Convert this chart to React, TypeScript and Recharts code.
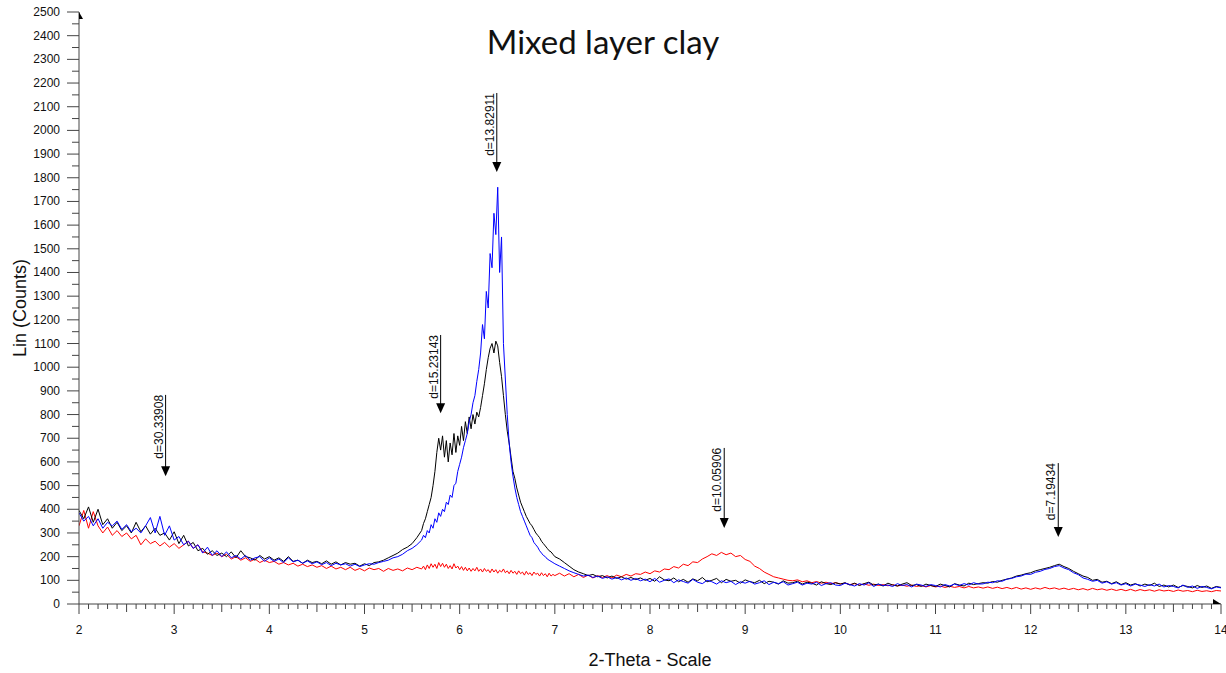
import { LineChart, Line, XAxis, YAxis, ReferenceLine } from "recharts";

// scan segments: 2.00-5.55 (step 0.05), 5.60-6.98 (step 0.02), 7.00-14.00 (step 0.05)
const SEG_A = { start: 2.0, step: 0.05 };
const SEG_B = { start: 5.6, step: 0.02 };
const SEG_C = { start: 7.0, step: 0.05 };

const BLACK_A = [
  395, 360, 410, 345, 400, 335, 360, 320,
  345, 310, 330, 300, 345, 305, 330, 295,
  320, 290, 300, 270, 305, 255, 290, 245,
  260, 225, 235, 210, 225, 205, 215, 200,
  220, 195, 225, 200, 195, 185, 205, 190,
  200, 185, 195, 180, 200, 180, 185, 172,
  185, 175, 180, 170, 182, 168, 178, 165,
  175, 168, 172, 160, 170, 162, 175, 178,
  185, 195, 205, 215, 230, 240, 255, 280,
];
const BLUE_A = [
  385, 350, 370, 330, 360, 320, 345, 330,
  350, 315, 335, 305, 320, 300, 330, 365,
  300, 370, 290, 330, 270, 285, 250, 265,
  235, 250, 215, 240, 205, 225, 200, 220,
  195, 205, 190, 205, 185, 195, 200, 180,
  195, 180, 190, 175, 195, 178, 185, 172,
  182, 170, 178, 166, 175, 162, 172, 165,
  170, 160, 168, 158, 165, 170, 168, 175,
  180, 185, 195, 200, 210, 225, 235, 250,
];
const RED_A = [
  330, 395, 320, 390, 330, 300, 325, 290,
  310, 285, 300, 275, 290, 250, 275, 255,
  265, 245, 260, 240, 255, 235, 250, 265,
  235, 250, 220, 215, 205, 215, 200, 210,
  190, 200, 185, 195, 180, 190, 175, 185,
  175, 180, 168, 175, 165, 172, 160, 168,
  158, 165, 155, 162, 150, 160, 148, 155,
  145, 155, 142, 150, 140, 152, 145, 150,
  138, 150, 142, 148, 140, 152, 145, 155,
];

const BLACK_B = [
  310, 340, 360, 390, 420, 450, 500, 560, 640, 700,
  650, 710, 620, 690, 600, 680, 630, 720, 640, 710,
  670, 750, 690, 770, 720, 790, 740, 800, 760, 810,
  790, 830, 880, 930, 990, 1040, 1080, 1100, 1060, 1110,
  1090, 1020, 960, 880, 800, 730, 680, 620, 560, 530,
  490, 460, 430, 410, 390, 370, 355, 340, 330, 315,
  300, 290, 280, 265, 255, 245, 235, 225, 220, 210,
];
const BLUE_B = [
  270, 290, 280, 310, 300, 335, 320, 360, 345, 385,
  370, 400, 390, 430, 420, 460, 450, 500, 510, 560,
  590, 620, 660, 690, 720, 770, 800, 850, 880, 940,
  990, 1060, 1180, 1120, 1320, 1250, 1480, 1420, 1650, 1560,
  1760, 1400, 1550, 1100, 950, 800, 680, 600, 540, 490,
  450, 420, 390, 370, 350, 330, 310, 290, 280, 260,
  250, 240, 225, 215, 205, 200, 190, 185, 180, 175,
];
const RED_B = [
  148, 160, 145, 165, 150, 170, 155, 168, 150, 175,
  158, 172, 155, 168, 150, 162, 148, 170, 152, 160,
  145, 158, 142, 155, 140, 152, 138, 150, 140, 155,
  138, 148, 135, 150, 138, 145, 132, 148, 135, 145,
  130, 142, 135, 148, 132, 140, 128, 142, 130, 138,
  125, 140, 128, 135, 122, 138, 125, 132, 120, 135,
  125, 130, 118, 132, 120, 128, 115, 130, 118, 125,
];

const BLACK_C = [
  200, 190, 175, 160, 145, 135, 128, 120, 125, 115,
  120, 110, 118, 108, 115, 105, 112, 103, 110, 100,
  108, 96, 115, 102, 98, 110, 94, 104, 92, 106,
  98, 112, 94, 100, 108, 90, 104, 96, 100, 88,
  102, 94, 90, 100, 86, 96, 92, 84, 98, 88,
  90, 96, 84, 92, 88, 80, 94, 86, 82, 90,
  84, 90, 80, 88, 78, 86, 92, 80, 84, 76,
  88, 80, 76, 84, 90, 78, 82, 74, 84, 78,
  74, 84, 78, 72, 86, 80, 76, 88, 82, 86,
  90, 88, 95, 92, 100, 105, 110, 118, 122, 128,
  132, 140, 145, 150, 155, 162, 168, 158, 150, 138,
  128, 118, 112, 100, 104, 92, 96, 86, 94, 82,
  90, 80, 86, 76, 84, 78, 88, 74, 80, 72,
  80, 70, 78, 74, 68, 78, 70, 76, 66, 74,
  70,
];
const BLUE_C = [
  170, 160, 150, 140, 132, 125, 118, 122, 112, 118,
  108, 115, 105, 112, 102, 110, 100, 108, 98, 105,
  94, 108, 92, 100, 106, 90, 102, 95, 88, 104,
  92, 86, 100, 94, 84, 98, 90, 96, 82, 94,
  88, 96, 84, 90, 98, 82, 92, 86, 94, 80,
  86, 92, 80, 88, 84, 92, 78, 86, 90, 80,
  78, 88, 82, 76, 86, 80, 90, 74, 84, 78,
  80, 74, 86, 78, 82, 72, 84, 80, 74, 82,
  78, 72, 82, 76, 84, 78, 86, 80, 90, 84,
  85, 92, 90, 98, 96, 105, 108, 115, 118, 126,
  125, 134, 138, 146, 150, 158, 162, 152, 145, 132,
  124, 110, 104, 96, 100, 88, 94, 84, 90, 80,
  86, 76, 84, 80, 74, 82, 76, 84, 72, 78,
  74, 68, 80, 70, 76, 66, 74, 70, 64, 72,
  68,
];
const RED_C = [
  120, 130, 118, 128, 115, 125, 112, 122, 110, 120,
  112, 120, 110, 122, 115, 125, 118, 128, 125, 135,
  128, 140, 135, 148, 145, 158, 152, 168, 162, 178,
  175, 190, 200, 212, 205, 218, 208, 215, 200, 205,
  188, 180, 160, 150, 135, 125, 115, 110, 105, 100,
  98, 102, 94, 98, 90, 95, 88, 92, 86, 90,
  85, 88, 82, 86, 80, 85, 79, 84, 78, 82,
  77, 82, 76, 80, 75, 80, 74, 78, 72, 78,
  72, 76, 70, 75, 70, 74, 68, 74, 68, 72,
  67, 72, 66, 71, 65, 70, 64, 70, 63, 68,
  62, 68, 63, 70, 64, 68, 62, 67, 61, 66,
  60, 65, 59, 66, 60, 64, 58, 63, 57, 62,
  56, 62, 55, 61, 56, 60, 54, 60, 55, 58,
  53, 59, 54, 57, 52, 58, 53, 56, 52, 57,
  55,
];

const PEAKS = [
  { label: "d=30.33908", theta: 2.91, top: 883, tip: 540 },
  { label: "d=15.23143", theta: 5.8, top: 1136, tip: 806 },
  { label: "d=13.82911", theta: 6.39, top: 2158, tip: 1824 },
  { label: "d=10.05906", theta: 8.78, top: 659, tip: 321 },
  { label: "d=7.19434", theta: 12.29, top: 595, tip: 283 },
];

const X_TICKS: number[] = [];
for (let i = 20; i <= 140; i++) X_TICKS.push(i / 10);
const Y_TICKS: number[] = [];
for (let v = 0; v <= 2500; v += 50) Y_TICKS.push(v);

function segment(seg: { start: number; step: number }, black: number[], blue: number[], red: number[]) {
  return black.map((b, i) => ({
    theta: +(seg.start + i * seg.step).toFixed(2),
    black: b,
    blue: blue[i],
    red: red[i],
  }));
}

const data = [
  ...segment(SEG_A, BLACK_A, BLUE_A, RED_A),
  ...segment(SEG_B, BLACK_B, BLUE_B, RED_B),
  ...segment(SEG_C, BLACK_C, BLUE_C, RED_C),
];

const FONT = "'Liberation Sans', Arial, sans-serif";
const AXIS = "#444";

const XTick = (props: any) => {
  const { x, y, payload } = props;
  const v = payload.value;
  const major = Math.abs(v - Math.round(v)) < 1e-6;
  const half = !major && Math.abs(v * 2 - Math.round(v * 2)) < 1e-6;
  const len = major ? 10 : half ? 8 : 5;
  return (
    <g>
      <line x1={x} y1={y} x2={x} y2={y + len} stroke={AXIS} strokeWidth={1} />
      {major && (
        <text x={x} y={y + 30} textAnchor="middle" fontSize={12} fontFamily={FONT} fill="#111">
          {Math.round(v)}
        </text>
      )}
      {v === 14 && <polygon points={`${x - 8},${y - 5} ${x},${y} ${x - 8},${y}`} fill="#000" />}
    </g>
  );
};

const YTick = (props: any) => {
  const { x, y, payload } = props;
  const v = payload.value;
  const major = v % 100 === 0;
  return (
    <g>
      <line x1={x - (major ? 12 : 7)} y1={y} x2={x} y2={y} stroke={AXIS} strokeWidth={1} />
      {major && (
        <text x={x - 19} y={y + 4} textAnchor="end" fontSize={12} fontFamily={FONT} fill="#111">
          {v}
        </text>
      )}
      {v === 2500 && <polygon points={`${x},${y} ${x + 4},${y + 7} ${x},${y + 7}`} fill="#000" />}
    </g>
  );
};

const arrowShape = (label: string) => (props: any) => {
  const { x1, y1, y2 } = props;
  const top = Math.min(y1, y2);
  const tip = Math.max(y1, y2);
  return (
    <g>
      <line x1={x1} y1={top} x2={x1} y2={tip - 9} stroke="#000" strokeWidth={1} />
      <polygon points={`${x1 - 4.5},${tip - 10} ${x1 + 4.5},${tip - 10} ${x1},${tip}`} fill="#000" />
      <text
        transform={`translate(${x1 - 3},${top}) rotate(-90)`}
        textAnchor="end"
        fontSize={12}
        fontFamily={FONT}
        fill="#111"
      >
        {label}
      </text>
    </g>
  );
};

export default function App() {
  return (
    <div style={{ position: "absolute", left: 0, top: 0, width: 1226, height: 673, background: "#fff" }}>
      <LineChart width={1226} height={673} data={data} margin={{ top: 12, right: 5, left: 19, bottom: 39 }}>
        <XAxis
          dataKey="theta"
          type="number"
          domain={[2, 14]}
          ticks={X_TICKS}
          interval={0}
          tick={<XTick />}
          tickLine={false}
          tickSize={0}
          tickMargin={0}
          height={30}
          axisLine={{ stroke: AXIS }}
          allowDataOverflow
        />
        <YAxis
          type="number"
          domain={[0, 2500]}
          ticks={Y_TICKS}
          interval={0}
          tick={<YTick />}
          tickLine={false}
          tickSize={0}
          tickMargin={0}
          width={60}
          axisLine={{ stroke: AXIS }}
          allowDataOverflow
        />
        <Line dataKey="red" stroke="#ff0000" strokeWidth={1} dot={false} isAnimationActive={false} />
        <Line dataKey="black" stroke="#000000" strokeWidth={1} dot={false} isAnimationActive={false} />
        <Line dataKey="blue" stroke="#0000ff" strokeWidth={1} dot={false} isAnimationActive={false} />
        {PEAKS.map((p) => (
          <ReferenceLine
            key={p.label}
            segment={[
              { x: p.theta, y: p.top },
              { x: p.theta, y: p.tip },
            ]}
            shape={arrowShape(p.label)}
          />
        ))}
      </LineChart>
      <div
        style={{
          position: "absolute",
          left: 0,
          width: 1206,
          top: 19,
          textAlign: "center",
          fontFamily: "Lato, 'Open Sans', sans-serif",
          fontSize: 33,
          lineHeight: "44px",
          color: "#111",
        }}
      >
        Mixed layer clay
      </div>
      <div
        style={{
          position: "absolute",
          left: 20,
          top: 308,
          transform: "translate(-50%, -50%) rotate(-90deg)",
          fontFamily: FONT,
          fontSize: 18,
          whiteSpace: "nowrap",
          color: "#111",
        }}
      >
        Lin (Counts)
      </div>
      <div
        style={{
          position: "absolute",
          left: 650,
          top: 660,
          transform: "translate(-50%, -50%)",
          fontFamily: FONT,
          fontSize: 18,
          whiteSpace: "nowrap",
          color: "#111",
        }}
      >
        2-Theta - Scale
      </div>
    </div>
  );
}
